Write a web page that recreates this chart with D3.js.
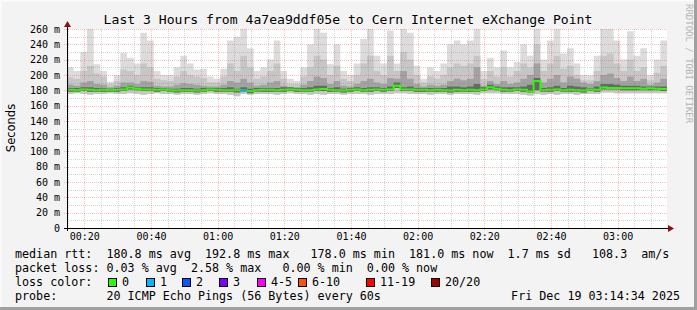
<!DOCTYPE html>
<html>
<head>
<meta charset="utf-8">
<script src="https://cdn.jsdelivr.net/npm/d3@7"></script>
<style>
  body { margin: 0; background: #f3f3f3; }
  svg { display: block; }
  text { font-family: "DejaVu Sans Mono", monospace; fill: #000; }
</style>
</head>
<body>
<div id="chart"></div>
<script>
// values, 2-minute bins starting 00:14:49
var medianRtt = [
  180.5, 180, 181, 180.5, 180, 180.5, 180, 180.5, 181, 183.5,
  182, 181, 181, 180.5, 181, 180, 179.5, 180, 180, 179.5,
  180, 181, 180.5, 180, 180, 180, 179.5, 179, 180, 180.5,
  180.5, 180, 180.5, 181, 180.5, 180, 180, 181, 181.5, 180.5,
  180, 179.5, 180.5, 181, 180, 180.5, 181, 180.5, 181, 186,
  181, 181, 180.5, 180.5, 180, 180.5, 180, 179.5, 180.5, 180,
  180.5, 180, 181, 184, 182, 180.5, 180, 181, 180.5, 178.5,
  192, 180, 180.5, 181, 180, 180.5, 180, 179.5, 181, 180.5,
  183.5, 183, 183, 182.5, 182.5, 182.5, 182, 182.5, 182, 181.5
];
var lossCount = [
  0, 0, 0, 0, 0, 0, 0, 0, 0, 0,
  0, 0, 0, 0, 0, 0, 0, 0, 0, 0,
  0, 0, 0, 0, 0, 0, 1, 0, 0, 0,
  0, 0, 0, 0, 0, 0, 0, 0, 0, 0,
  0, 0, 0, 0, 0, 0, 0, 0, 0, 0,
  0, 0, 0, 0, 0, 0, 0, 0, 0, 0,
  0, 0, 0, 0, 0, 0, 0, 0, 0, 0,
  0, 0, 0, 0, 0, 0, 0, 0, 0, 0,
  0, 0, 0, 0, 0, 0, 0, 0, 0, 0
];
var smokeMax = [
  210, 205, 230, 260, 214, 205, 191, 200, 229, 222,
  215, 255, 245, 205, 200, 200, 210, 225, 215, 207,
  208, 198, 195, 208, 245, 250, 260, 235, 205, 210,
  220, 245, 205, 195, 192, 210, 240, 260, 255, 214,
  240, 205, 200, 215, 247, 260, 225, 215, 258, 215,
  260, 255, 212, 195, 210, 205, 215, 240, 245, 240,
  245, 260, 205, 222, 210, 232, 210, 217, 240, 225,
  262, 220, 245, 260, 228, 235, 215, 200, 200, 225,
  260, 260, 245, 220, 257, 225, 235, 200, 220, 245
];
var smokeP90 = [
  197, 195, 205, 212, 202, 198, 188, 192, 207, 205,
  200, 215, 210, 195, 193, 192, 198, 205, 200, 198,
  196, 190, 190, 198, 215, 205, 225, 210, 195, 198,
  205, 215, 195, 188, 188, 198, 210, 225, 220, 200,
  212, 195, 192, 200, 215, 225, 205, 200, 225, 205,
  230, 220, 200, 190, 198, 195, 200, 210, 215, 212,
  215, 225, 195, 205, 198, 210, 198, 205, 215, 210,
  240, 205, 215, 225, 208, 212, 200, 193, 193, 205,
  225, 228, 215, 205, 220, 205, 210, 193, 203, 212
];
var smokeP70 = [
  187, 186, 190, 192, 188, 187, 184, 186, 190, 190,
  188, 192, 191, 186, 185, 185, 187, 189, 188, 187,
  186, 185, 185, 187, 192, 190, 195, 190, 186, 187,
  190, 192, 186, 184, 184, 187, 192, 198, 196, 188,
  192, 186, 185, 188, 192, 195, 190, 188, 196, 195,
  205, 195, 188, 185, 187, 186, 187, 192, 195, 193,
  195, 210, 186, 192, 188, 192, 188, 190, 195, 200,
  215, 190, 195, 200, 190, 198, 195, 190, 188, 192,
  200, 202, 196, 192, 198, 192, 195, 187, 190, 195
];
var smokeP55 = [
  183, 183, 184, 184, 183, 183, 182, 183, 184, 186,
  184, 184, 184, 183, 183, 182, 182, 183, 183, 182,
  183, 183, 183, 183, 184, 182, 184, 182, 183, 183,
  183, 183, 184, 184, 183, 183, 184, 186, 186, 183,
  184, 182, 183, 184, 183, 184, 184, 183, 185, 190,
  184, 185, 183, 183, 183, 183, 183, 185, 185, 184,
  185, 188, 184, 187, 185, 184, 184, 184, 185, 187,
  196, 183, 184, 186, 183, 186, 185, 184, 183, 185,
  188, 188, 187, 186, 186, 186, 185, 185, 185, 185
];
var smokeLowDark = [
  178, 178, 179, 178, 178, 178, 178, 178, 179, 181,
  180, 179, 179, 178, 179, 178, 177, 178, 178, 177,
  178, 179, 178, 178, 178, 177, 178, 176, 178, 178,
  178, 178, 178, 179, 178, 178, 178, 179, 179, 178,
  178, 177, 178, 179, 178, 178, 179, 178, 179, 183,
  179, 179, 178, 178, 178, 178, 178, 177, 178, 178,
  178, 178, 179, 181, 180, 178, 178, 179, 178, 177,
  180, 178, 178, 179, 178, 178, 178, 177, 179, 178,
  181, 181, 181, 180, 180, 180, 180, 180, 180, 179
];
var smokeLow = [
  175, 176, 175, 174, 175, 175, 176, 175, 175, 176,
  175, 174, 175, 176, 175, 175, 174, 175, 175, 174,
  175, 176, 175, 175, 174, 172, 175, 174, 175, 175,
  175, 174, 175, 176, 175, 175, 174, 175, 174, 175,
  175, 174, 175, 175, 175, 174, 175, 175, 175, 176,
  176, 175, 175, 175, 174, 175, 175, 174, 175, 175,
  175, 174, 176, 176, 176, 175, 175, 175, 174, 173,
  175, 174, 175, 174, 175, 175, 174, 175, 175, 175,
  177, 177, 176, 176, 176, 176, 176, 176, 176, 176
];

var yTickValues = [0, 20, 40, 60, 80, 100, 120, 140, 160, 180, 200, 220, 240, 260];
var xTickLabels = ["00:20", "00:40", "01:00", "01:20", "01:40", "02:00", "02:20", "02:40", "03:00"];

var rttStats = [180.8, 192.8, 178.0, 181.0];
var rttSd = 1.7;
var amPerSec = 108.3;
var lossStats = [0.03, 2.58, 0.00, 0.00];
var lossLabels = ["0", "1", "2", "3", "4-5", "6-10", "11-19", "20/20"];
var lossColors = ["#26ff00", "#00b8ff", "#0059ff", "#7e00ff", "#ff00ff", "#ff5500", "#ff0000", "#a10000"];

var titleText = "Last 3 Hours from 4a7ea9ddf05e to Cern Internet eXchange Point";
var probeText = "20 ICMP Echo Pings (56 Bytes) every 60s";
var stampText = "Fri Dec 19 03:14:34 2025";

var startTime = Date.UTC(2025, 11, 19, 0, 14, 49);
var stepMs = 2 * 60000;
var endTime = startTime + 180 * 60000;

var W = 697, H = 310;
var plot = { left: 67, right: 667, top: 29, bottom: 228 };

var svg = d3.select("#chart").append("svg")
    .attr("width", W)
    .attr("height", H);

// frame
svg.append("rect").attr("width", W).attr("height", H).attr("fill", "#f3f3f3");
svg.append("path").attr("d", "M0," + H + "V0H" + W).attr("fill", "none")
    .attr("stroke", "#fbfbfb").attr("stroke-width", 3);
svg.append("path").attr("d", "M0," + (H - 1.5) + "H" + (W - 1.5) + "V0").attr("fill", "none")
    .attr("stroke", "#a0a0a0").attr("stroke-width", 3);

svg.append("rect")
    .attr("x", plot.left).attr("y", plot.top)
    .attr("width", plot.right - plot.left).attr("height", plot.bottom - plot.top)
    .attr("fill", "#fff");

var x = d3.scaleUtc().domain([startTime, endTime]).range([plot.left, plot.right]);
var y = d3.scaleLinear().domain([0, 260]).range([plot.bottom, plot.top]).clamp(true);

var bins = medianRtt.map(function (m, i) {
    return {
        t: new Date(startTime + i * stepMs),
        med: m, loss: lossCount[i],
        low: smokeLow[i], lowDark: smokeLowDark[i],
        p55: smokeP55[i], p70: smokeP70[i], p90: smokeP90[i], max: smokeMax[i]
    };
});
var pts = bins.concat([Object.assign({}, bins[bins.length - 1], { t: new Date(endTime) })]);

svg.append("clipPath").attr("id", "plotclip").append("rect")
    .attr("x", plot.left).attr("y", plot.top)
    .attr("width", plot.right - plot.left).attr("height", plot.bottom - plot.top);

var g = svg.append("g").attr("clip-path", "url(#plotclip)");

// smoke, light to dark
var layers = [
    { lo: "low", hi: "max", color: "#dcdcdc" },
    { lo: "low", hi: "p90", color: "#c6c6c6" },
    { lo: "lowDark", hi: "p70", color: "#a2a2a2" },
    { lo: "lowDark", hi: "p55", color: "#686868" }
];
layers.forEach(function (l) {
    var area = d3.area()
        .curve(d3.curveStepAfter)
        .x(function (d) { return x(d.t); })
        .y0(function (d) { return y(d[l.lo]); })
        .y1(function (d) { return y(d[l.hi]); });
    g.append("path").attr("d", area(pts)).attr("fill", l.color);
});

// grid
var minorV = d3.utcMinute.every(5).range(new Date(startTime), new Date(endTime))
    .filter(function (d) { return d.getUTCMinutes() % 20 !== 0; });
var majorV = xTickLabels.map(function (s) {
    var p = s.split(":");
    return new Date(Date.UTC(2025, 11, 19, +p[0], +p[1]));
});
var minorH = d3.range(10, 261, 20);

var grid = svg.append("g");
grid.selectAll(".mv").data(minorV).enter().append("line")
    .attr("x1", function (d) { return Math.round(x(d)) + 0.5; })
    .attr("x2", function (d) { return Math.round(x(d)) + 0.5; })
    .attr("y1", plot.top).attr("y2", plot.bottom)
    .attr("stroke", "rgba(120,120,120,0.3)").attr("stroke-dasharray", "1,1");
grid.selectAll(".mh").data(minorH).enter().append("line")
    .attr("x1", plot.left).attr("x2", plot.right)
    .attr("y1", function (d) { return Math.round(y(d)) + 0.5; })
    .attr("y2", function (d) { return Math.round(y(d)) + 0.5; })
    .attr("stroke", "rgba(120,120,120,0.3)").attr("stroke-dasharray", "1,1");
grid.selectAll(".Mv").data(majorV).enter().append("line")
    .attr("x1", function (d) { return Math.round(x(d)) + 0.5; })
    .attr("x2", function (d) { return Math.round(x(d)) + 0.5; })
    .attr("y1", plot.top).attr("y2", plot.bottom + 3)
    .attr("stroke", "rgba(255,40,40,0.3)").attr("stroke-dasharray", "1,1");
grid.selectAll(".Mh").data(yTickValues).enter().append("line")
    .attr("x1", plot.left - 3).attr("x2", plot.right)
    .attr("y1", function (d) { return Math.round(y(d)) + 0.5; })
    .attr("y2", function (d) { return Math.round(y(d)) + 0.5; })
    .attr("stroke", "rgba(255,40,40,0.3)").attr("stroke-dasharray", "1,1");

// median line, coloured by loss
var line = d3.line()
    .curve(d3.curveStepAfter)
    .x(function (d) { return x(d.t); })
    .y(function (d) { return y(d.med); });
g.append("path").attr("d", line(pts))
    .attr("fill", "none").attr("stroke", lossColors[0]).attr("stroke-width", 2);
var lossBucket = function (n) {
    if (n <= 3) return n;
    if (n <= 5) return 4;
    if (n <= 10) return 5;
    if (n <= 19) return 6;
    return 7;
};
bins.forEach(function (d, i) {
    if (!d.loss) return;
    g.append("line")
        .attr("x1", x(d.t)).attr("x2", x(pts[i + 1].t))
        .attr("y1", y(d.med)).attr("y2", y(d.med))
        .attr("stroke", lossColors[lossBucket(d.loss)]).attr("stroke-width", 2);
});

// axes
var yAxis = svg.append("g")
    .attr("transform", "translate(" + plot.left + ",0)")
    .call(d3.axisLeft(y).tickValues(yTickValues).tickSize(0).tickPadding(7)
        .tickFormat(function (d) { return d === 0 ? "0" : d + " m"; }));
yAxis.select(".domain").remove();
yAxis.selectAll("text").attr("font-family", "DejaVu Sans Mono").attr("font-size", 10);

var xAxis = svg.append("g")
    .attr("transform", "translate(0," + plot.bottom + ")")
    .call(d3.axisBottom(x).tickValues(majorV).tickSize(0).tickPadding(5)
        .tickFormat(d3.utcFormat("%H:%M")));
xAxis.select(".domain").remove();
xAxis.selectAll("text").attr("font-family", "DejaVu Sans Mono").attr("font-size", 10);

svg.append("line").attr("x1", plot.left - 3).attr("x2", plot.right + 3)
    .attr("y1", plot.bottom + 0.5).attr("y2", plot.bottom + 0.5).attr("stroke", "#000");
svg.append("line").attr("x1", plot.left + 0.5).attr("x2", plot.left + 0.5)
    .attr("y1", plot.bottom + 3).attr("y2", plot.top - 3).attr("stroke", "#000");
svg.append("path")
    .attr("d", "M" + (plot.right + 1) + "," + (plot.bottom - 3) + "l6,3.5l-6,3.5z")
    .attr("fill", "#8b1010");
svg.append("path")
    .attr("d", "M" + (plot.left - 3) + "," + (plot.top - 2) + "l3.5,-6l3.5,6z")
    .attr("fill", "#8b1010");

// titles
svg.append("text").attr("x", 348).attr("y", 24).attr("text-anchor", "middle")
    .attr("font-size", 13.1).text(titleText);
svg.append("text").attr("transform", "translate(15,128) rotate(-90)")
    .attr("text-anchor", "middle").style("font-family", "'DejaVu Sans', sans-serif")
    .attr("font-size", 11.5).text("Seconds");
svg.append("text").attr("transform", "translate(686,4) rotate(90)")
    .attr("font-size", 9).style("fill", "#b4b4b4").text("RRDTOOL / TOBI OETIKER");

// legend
var f1 = d3.format(".1f"), f2 = d3.format(".2f");
var rows = [
    "median rtt:  " + f1(rttStats[0]) + " ms avg  " + f1(rttStats[1]) + " ms max   " +
        f1(rttStats[2]) + " ms min  " + f1(rttStats[3]) + " ms now  " + f1(rttSd) +
        " ms sd   " + f1(amPerSec) + "  am/s",
    "packet loss: " + f2(lossStats[0]) + " % avg  " + f2(lossStats[1]) + " % max   " +
        f2(lossStats[2]) + " % min  " + f2(lossStats[3]) + " % now",
    "loss color:",
    "probe:       " + probeText
];
var rowY = [258, 272, 286, 300];
var legend = svg.append("g").attr("font-size", 11.7);
legend.selectAll("text.row").data(rows).enter().append("text")
    .attr("class", "row")
    .attr("x", 15).attr("y", function (d, i) { return rowY[i]; })
    .attr("xml:space", "preserve").style("white-space", "pre")
    .text(function (d) { return d; });
legend.append("text").attr("x", 680).attr("y", rowY[3]).attr("text-anchor", "end").text(stampText);

var boxX = [108, 146, 182, 219, 257, 298, 366, 431];
var items = legend.selectAll("g.item").data(lossLabels).enter().append("g")
    .attr("transform", function (d, i) { return "translate(" + boxX[i] + "," + (rowY[2] - 8) + ")"; });
items.append("rect").attr("x", 0.5).attr("y", 0.5).attr("width", 8).attr("height", 8)
    .attr("fill", function (d, i) { return lossColors[i]; })
    .attr("stroke", "#000");
items.append("text").attr("x", 14).attr("y", 8).text(function (d) { return d; });
</script>
</body>
</html>
